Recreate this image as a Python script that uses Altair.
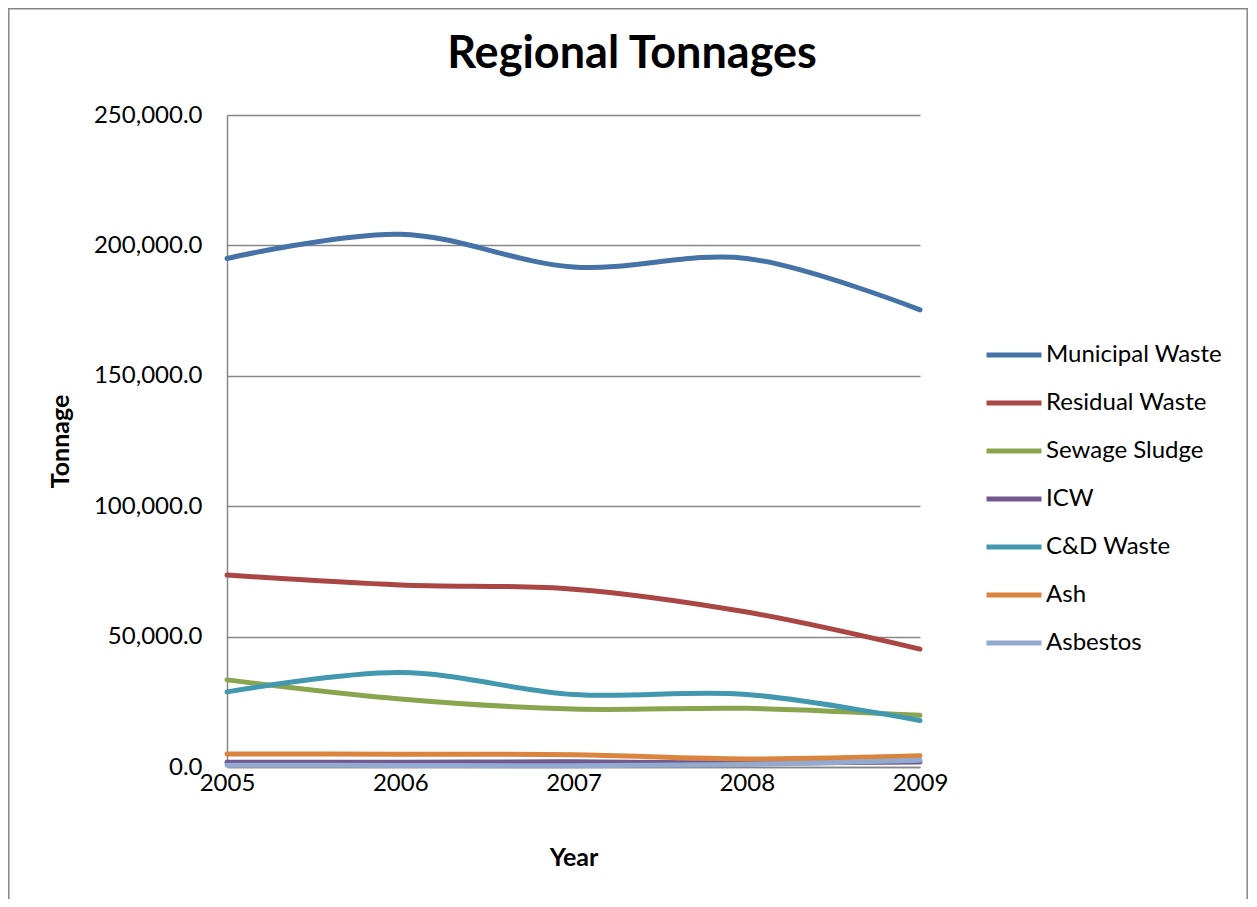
import altair as alt
import pandas as pd

years = [2005, 2006, 2007, 2008, 2009]
series_names = ["Municipal Waste", "Residual Waste", "Sewage Sludge", "ICW",
                "C&D Waste", "Ash", "Asbestos"]
municipal = [195000, 204300, 191700, 195000, 175300]
residual = [73600, 69800, 68200, 59400, 45200]
sewage = [33400, 26100, 22200, 22500, 19800]
icw = [1800, 1800, 2000, 1500, 1900]
cd_waste = [28800, 36200, 27800, 27800, 17800]
ash = [5000, 4900, 4700, 3100, 4300]
asbestos = [700, 600, 500, 1000, 2600]
colors = ["#4572A7", "#AA4643", "#89A54E", "#71588F", "#4198AF", "#DB843D", "#93A9CF"]
chart_title = "Regional Tonnages"

all_values = [municipal, residual, sewage, icw, cd_waste, ash, asbestos]
rows = []
for i, (name, vals) in enumerate(zip(series_names, all_values)):
    for y, v in zip(years, vals):
        rows.append({"Year": y, "Tonnage": v, "Series": name, "idx": i})
df = pd.DataFrame(rows)

FONT = "Lato"
FRAME = "#868686"

lines = alt.Chart(df).mark_line(
    interpolate="catmull-rom", strokeWidth=5, strokeCap="round"
).encode(
    x=alt.X("Year:Q", scale=alt.Scale(domain=[2005, 2009], nice=False, zero=False),
            axis=alt.Axis(values=years, format="d", title="Year", grid=False,
                          ticks=False, labelPadding=4, titlePadding=50,
                          labelFlush=False, labelBound=False,
                          domainColor=FRAME, domainWidth=1.5)),
    y=alt.Y("Tonnage:Q", scale=alt.Scale(domain=[0, 250000], nice=False),
            axis=alt.Axis(values=[0, 50000, 100000, 150000, 200000, 250000],
                          format=",.1f", title="Tonnage", ticks=False,
                          labelPadding=25, gridColor=FRAME, gridWidth=1.3,
                          domainColor=FRAME, domainWidth=1.5,
                          titleX=-167, titleY=326, titleAngle=270,
                          titleAlign="center", titleBaseline="middle")),
    color=alt.Color("Series:N", sort=series_names,
                    scale=alt.Scale(domain=series_names, range=colors),
                    legend=alt.Legend(title=None, orient="none", legendX=757,
                                      legendY=226, symbolType="stroke",
                                      symbolSize=3025, symbolStrokeWidth=5,
                                      labelFontSize=24, labelFont=FONT,
                                      labelColor="#000000", labelOffset=2,
                                      labelLimit=400,
                                      rowPadding=20, clipHeight=28)),
    order=alt.Order("Year:Q"),
)

title_df = pd.DataFrame({"t": [chart_title]})
title_mark = alt.Chart(title_df).mark_text(
    font=FONT, fontSize=45, fontWeight="bold", color="#000000",
    align="center", baseline="alphabetic"
).encode(text="t:N", x=alt.value(405), y=alt.value(-47))

frame_df = pd.DataFrame({"k": [0]})
frame_left = alt.Chart(frame_df).mark_rule(color=FRAME, strokeWidth=1.5).encode(
    x=alt.value(-218.2), y=alt.value(-107), y2=alt.value(784))
frame_top = alt.Chart(frame_df).mark_rule(color=FRAME, strokeWidth=1.5).encode(
    x=alt.value(-219), x2=alt.value(1021), y=alt.value(-106.2))
frame_right = alt.Chart(frame_df).mark_rule(color=FRAME, strokeWidth=1.5).encode(
    x=alt.value(1020.2), y=alt.value(-107), y2=alt.value(784))

chart = alt.layer(lines, title_mark, frame_left, frame_top, frame_right).properties(
    width=693, height=652,
    autosize=alt.AutoSizeParams(type="none"),
    padding={"left": 219, "top": 107, "right": 329, "bottom": 132},
).configure_axis(
    labelFont=FONT, labelFontSize=24, labelColor="#000000",
    titleFont=FONT, titleFontSize=25, titleColor="#000000", titleFontWeight="bold",
).configure_view(stroke=None)

chart.save("out.html", embed_options={"renderer": "svg", "actions": False})
